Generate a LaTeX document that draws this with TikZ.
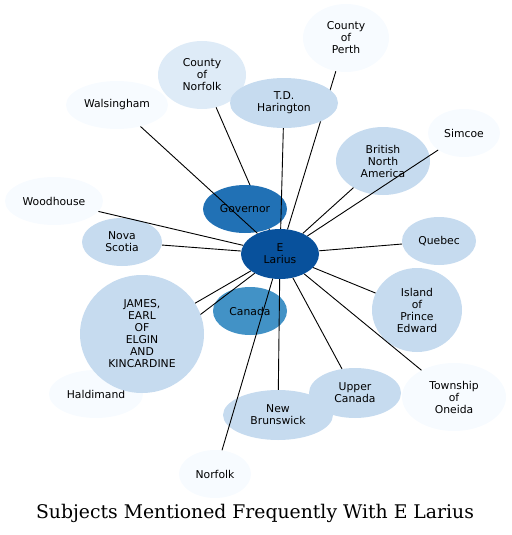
\documentclass[tikz,border=0pt]{standalone}
\usepackage{fontspec}
\newfontfamily\labelfont{DejaVu Sans}
\newfontfamily\titlefont{DejaVu Serif}
\usetikzlibrary{shapes.geometric}
\definecolor{blueE}{HTML}{08519C}
\definecolor{blueD}{HTML}{2171B5}
\definecolor{blueC}{HTML}{4292C6}
\definecolor{blueB}{HTML}{C6DBEF}
\definecolor{blueA}{HTML}{DEEBF7}
\definecolor{blueO}{HTML}{F7FBFF}
\begin{document}
\begin{tikzpicture}[x=1pt, y=-1pt,
    subj/.style = {ellipse, inner sep=0pt, align=center,
      font=\labelfont\fontsize{10.8}{12}\selectfont},
    link/.style = {line width=0.9pt}]
  \useasboundingbox (0,0) rectangle (511,535);
  \node[subj, fill=blueE, minimum width=78pt, minimum height=50pt] (larius) at (280,254) {E\\Larius};
  \node[subj, fill=blueA, minimum width=88pt, minimum height=68pt] (cnorfolk) at (202,75) {County\\of\\Norfolk};
  \node[subj, fill=blueO, minimum width=86pt, minimum height=68pt] (perth) at (346,38) {County\\of\\Perth};
  \node[subj, fill=blueO, minimum width=102pt, minimum height=48pt] (walsingham) at (117,105) {Walsingham};
  \node[subj, fill=blueO, minimum width=72pt, minimum height=48pt] (simcoe) at (464,133) {Simcoe};
  \node[subj, fill=blueB, minimum width=94pt, minimum height=68pt] (bna) at (383,161) {British\\North\\America};
  \node[subj, fill=blueO, minimum width=98pt, minimum height=48pt] (woodhouse) at (54,201) {Woodhouse};
  \node[subj, fill=blueB, minimum width=80pt, minimum height=48pt] (nova) at (122,242) {Nova\\Scotia};
  \node[subj, fill=blueB, minimum width=74pt, minimum height=48pt] (quebec) at (439,241) {Quebec};
  \node[subj, fill=blueB, minimum width=90pt, minimum height=84pt] (pei) at (417,310) {Island\\of\\Prince\\Edward};
  \node[subj, fill=blueC, minimum width=74pt, minimum height=48pt] (canada) at (250,311) {Canada};
  \node[subj, fill=blueO, minimum width=94pt, minimum height=48pt] (haldimand) at (96,394) {Haldimand};
  \node[subj, fill=blueB, minimum width=110pt, minimum height=50pt] (brunswick) at (278,415) {New\\Brunswick};
  \node[subj, fill=blueB, minimum width=92pt, minimum height=50pt] (upper) at (355,393) {Upper\\Canada};
  \node[subj, fill=blueO, minimum width=104pt, minimum height=68pt] (oneida) at (454,397) {Township\\of\\Oneida};
  \node[subj, fill=blueO, minimum width=72pt, minimum height=48pt] (norfolk) at (215,474) {Norfolk};
  % these links run under the nodes placed after them
  \draw[link] (larius) -- (perth);
  \draw[link] (larius) -- (cnorfolk);
  \draw[link] (larius) -- (haldimand);
  \node[subj, fill=blueB, minimum width=108pt, minimum height=50pt] (harington) at (284,103) {T.D.\\Harington};
  \node[subj, fill=blueD, minimum width=84pt, minimum height=48pt] (governor) at (245,209) {Governor};
  \node[subj, fill=blueB, minimum width=124pt, minimum height=118pt] (james) at (142,334) {JAMES,\\EARL\\OF\\ELGIN\\AND\\KINCARDINE};
  \draw[link] (larius) -- (harington);
  \draw[link] (larius) -- (walsingham);
  \draw[link] (larius) -- (simcoe);
  \draw[link] (larius) -- (bna);
  \draw[link] (larius) -- (woodhouse);
  \draw[link] (larius) -- (nova);
  \draw[link] (larius) -- (quebec);
  \draw[link] (larius) -- (pei);
  \draw[link] (larius) -- (james);
  \draw[link] (larius) -- (brunswick);
  \draw[link] (larius) -- (upper);
  \draw[link] (larius) -- (oneida);
  \draw[link] (larius) -- (norfolk);
  \node (title) at (255,513) {\titlefont\fontsize{18.8}{21}\selectfont Subjects Mentioned Frequently With E Larius};
\end{tikzpicture}
\end{document}
